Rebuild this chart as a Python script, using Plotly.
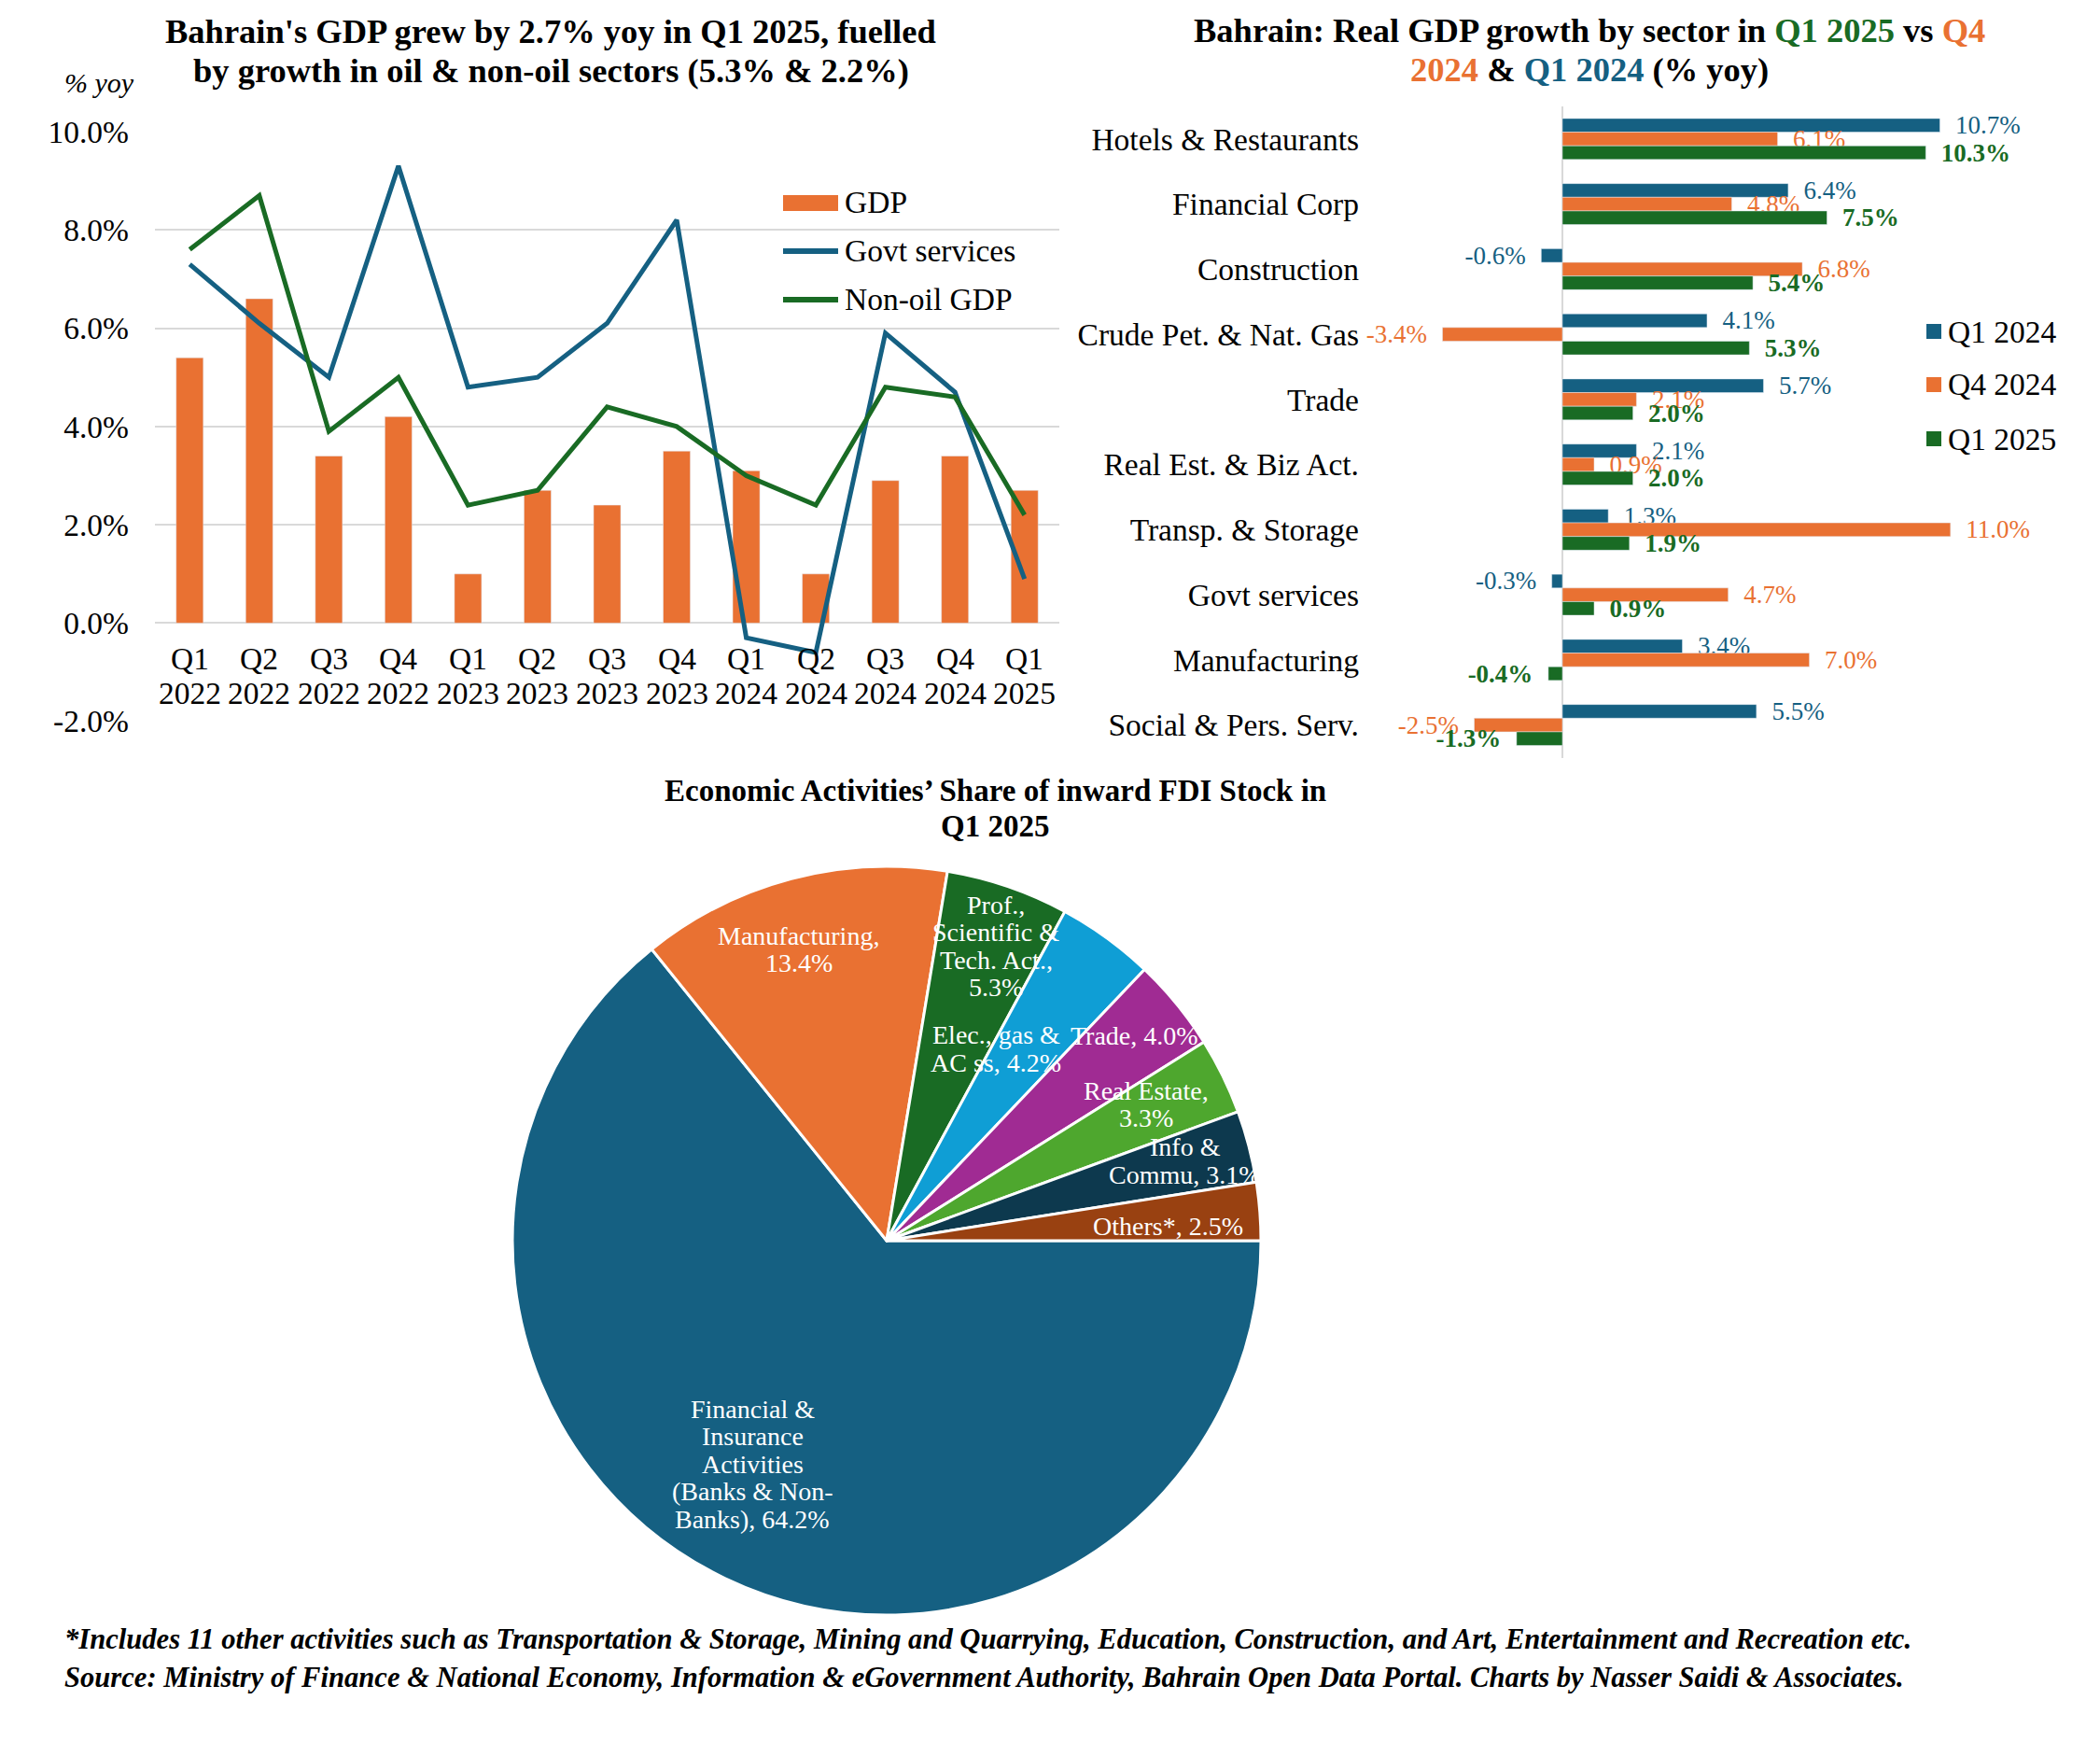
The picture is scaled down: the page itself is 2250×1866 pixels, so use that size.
import math
import plotly.graph_objects as go

W, H = 2250, 1866
FONT = "Liberation Serif, Times New Roman, serif"
ORANGE = "#E97132"
BLUE = "#156082"
GREEN = "#196B24"
GRID = "#D9D9D9"

# ---------------- Data: left chart ----------------
quarters = ["Q1 2022", "Q2 2022", "Q3 2022", "Q4 2022", "Q1 2023", "Q2 2023", "Q3 2023",
            "Q4 2023", "Q1 2024", "Q2 2024", "Q3 2024", "Q4 2024", "Q1 2025"]
gdp = [5.4, 6.6, 3.4, 4.2, 1.0, 2.7, 2.4, 3.5, 3.1, 1.0, 2.9, 3.4, 2.7]
govt_services = [7.3, 6.1, 5.0, 9.3, 4.8, 5.0, 6.1, 8.2, -0.3, -0.6, 5.9, 4.7, 0.9]
non_oil_gdp = [7.6, 8.7, 3.9, 5.0, 2.4, 2.7, 4.4, 4.0, 3.0, 2.4, 4.8, 4.6, 2.2]
y_ticks = [-2, 0, 2, 4, 6, 8, 10]

# ---------------- Data: right chart ----------------
sectors = ["Hotels & Restaurants", "Financial Corp", "Construction", "Crude Pet. & Nat. Gas",
           "Trade", "Real Est. & Biz Act.", "Transp. & Storage", "Govt services",
           "Manufacturing", "Social & Pers. Serv."]
q1_2024 = [10.7, 6.4, -0.6, 4.1, 5.7, 2.1, 1.3, -0.3, 3.4, 5.5]
q4_2024 = [6.1, 4.8, 6.8, -3.4, 2.1, 0.9, 11.0, 4.7, 7.0, -2.5]
q1_2025 = [10.3, 7.5, 5.4, 5.3, 2.0, 2.0, 1.9, 0.9, -0.4, -1.3]

# ---------------- Data: pie chart ----------------
fdi_labels = ["Financial & Insurance Activities (Banks & Non-Banks)", "Manufacturing",
              "Prof., Scientific & Tech. Act.", "Elec., gas & AC ss", "Trade",
              "Real Estate", "Info & Commu", "Others*"]
fdi_label_text = ["Financial &<br>Insurance<br>Activities<br>(Banks & Non-<br>Banks), ",
                  "Manufacturing,<br>", "Prof.,<br>Scientific &<br>Tech. Act.,<br>",
                  "Elec., gas &<br>AC ss, ", "Trade, ", "Real Estate,<br>",
                  "Info &<br>Commu, ", "Others*, "]
fdi_values = [64.2, 13.4, 5.3, 4.2, 4.0, 3.3, 3.1, 2.5]
fdi_colors = ["#156082", "#E97132", "#196B24", "#0F9ED5", "#A02B93", "#4EA72E", "#0D394E", "#994111"]


def px(x):
    return x / W


def py(y):
    return 1 - y / H


fig = go.Figure()

# ---------- Left chart ----------
fig.add_trace(go.Bar(x=quarters, y=gdp, marker_color=ORANGE, width=0.39, name="GDP",
                     xaxis="x", yaxis="y", showlegend=False))
fig.add_trace(go.Scatter(x=quarters, y=govt_services, mode="lines", name="Govt services",
                         line=dict(color=BLUE, width=5), xaxis="x", yaxis="y", showlegend=False))
fig.add_trace(go.Scatter(x=quarters, y=non_oil_gdp, mode="lines", name="Non-oil GDP",
                         line=dict(color=GREEN, width=5), xaxis="x", yaxis="y", showlegend=False))


# ---------- Right chart ----------
def lbl(vals):
    nb = "\u00a0\u00a0"
    return [(nb + f"{v:.1f}%") if v >= 0 else (f"{v:.1f}%" + nb) for v in vals]


for vals, col, nm, bold in [(q1_2024, BLUE, "Q1 2024", False),
                            (q4_2024, ORANGE, "Q4 2024", False),
                            (q1_2025, GREEN, "Q1 2025", True)]:
    fig.add_trace(go.Bar(y=sectors, x=vals, orientation="h", name=nm, marker_color=col,
                         text=lbl(vals), textposition="outside", constraintext="none",
                         cliponaxis=False, textangle=0,
                         textfont=dict(color=col, size=27, family=FONT,
                                       weight="bold" if bold else "normal"),
                         xaxis="x2", yaxis="y2", showlegend=False))

# ---------- Pie ----------
PCX, PCY, PR = 950, 1329, 401
fig.add_trace(go.Pie(labels=fdi_labels, values=fdi_values, sort=False, direction="clockwise",
                     rotation=90, textinfo="none", showlegend=False,
                     marker=dict(colors=fdi_colors, line=dict(color="white", width=3)),
                     domain=dict(x=[px(PCX - PR), px(PCX + PR)], y=[py(PCY + PR), py(PCY - PR)])))

annotations = []


def txt(x, y, text, size, bold=False, italic=False, xanchor="center", color="black"):
    annotations.append(dict(x=px(x), y=py(y), xref="paper", yref="paper", text=text,
                            showarrow=False, xanchor=xanchor, yanchor="middle",
                            font=dict(family=FONT, size=size, color=color,
                                      weight="bold" if bold else "normal",
                                      style="italic" if italic else "normal")))


# pie labels positioned from slice mid-angles (one annotation per text line)
LABEL_R = [0.696, 0.813, 0.84, 0.59, 0.86, 0.783, 0.826, 0.754]
LABEL_DA = [5.5, -2.0, 1.5, -6.3, -0.3, -1.6, -0.4, 1.5]
PIE_LS = 29.5
total = sum(fdi_values)
cum = 0
for i, v in enumerate(fdi_values):
    mid = 90 + (cum + v / 2) / total * 360 + LABEL_DA[i]
    cum += v
    rr = PR * LABEL_R[i]
    lx = PCX + rr * math.sin(math.radians(mid))
    ly = PCY - rr * math.cos(math.radians(mid))
    lines = (fdi_label_text[i] + f"{v:.1f}%").split("<br>")
    n = len(lines)
    for k, line in enumerate(lines):
        txt(lx, ly + (k - (n - 1) / 2) * PIE_LS, line, 28, color="white")

# left x tick labels (at the zero line)
for q in quarters:
    a, b = q.split(" ")
    annotations.append(dict(x=q, y=0, xref="x", yref="y", text=a, showarrow=False, yshift=-38,
                            yanchor="middle",
                            font=dict(family=FONT, size=33.5, color="black")))
    annotations.append(dict(x=q, y=0, xref="x", yref="y", text=b, showarrow=False, yshift=-75,
                            yanchor="middle",
                            font=dict(family=FONT, size=33.5, color="black")))

# titles
txt(590, 33, "Bahrain's GDP grew by 2.7% yoy in Q1 2025, fuelled", 36.5, bold=True)
txt(590, 75, "by growth in oil & non-oil sectors (5.3% & 2.2%)", 36.5, bold=True)
txt(106, 88, "% yoy", 30, italic=True)
txt(1703, 32, "Bahrain: Real GDP growth by sector in <span style='color:#196B24'>Q1 2025</span> vs "
              "<span style='color:#E97132'>Q4</span>", 36.5, bold=True)
txt(1703, 74, "<span style='color:#E97132'>2024</span> & <span style='color:#156082'>Q1 2024</span>"
              " (% yoy)", 36.5, bold=True)
txt(1066, 847, "Economic Activities’ Share of inward FDI Stock in", 33, bold=True)
txt(1066, 885, "Q1 2025", 33, bold=True)
txt(67, 1756, "*Includes 11 other activities such as Transportation & Storage, Mining and Quarrying, "
              "Education, Construction, and Art, Entertainment and Recreation etc.", 30.6,
    bold=True, italic=True, xanchor="left")
txt(67, 1797, "Source: Ministry of Finance & National Economy, Information & eGovernment Authority, "
              "Bahrain Open Data Portal. Charts by Nasser Saidi & Associates.", 30.6,
    bold=True, italic=True, xanchor="left")

shapes = []
# left legend (manual)
shapes.append(dict(type="rect", xref="paper", yref="paper", x0=px(839), x1=px(898),
                   y0=py(226), y1=py(209), fillcolor=ORANGE, line=dict(width=0)))
shapes.append(dict(type="line", xref="paper", yref="paper", x0=px(839), x1=px(898),
                   y0=py(269), y1=py(269), line=dict(color=BLUE, width=6)))
shapes.append(dict(type="line", xref="paper", yref="paper", x0=px(839), x1=px(898),
                   y0=py(321), y1=py(321), line=dict(color=GREEN, width=6)))
txt(903, 217, "GDP", 33.5, xanchor="left")
txt(903, 269, "Govt services", 33.5, xanchor="left")
txt(903, 321, "Non-oil GDP", 33.5, xanchor="left")

# right legend (manual)
for yy, col, nm in [(355, BLUE, "Q1 2024"), (412, ORANGE, "Q4 2024"), (470, GREEN, "Q1 2025")]:
    shapes.append(dict(type="rect", xref="paper", yref="paper", x0=px(2064), x1=px(2080),
                       y0=py(yy + 8), y1=py(yy - 8), fillcolor=col, line=dict(width=0)))
    txt(2085, yy, nm, 33.5, xanchor="left")

# right axis geometry
ZERO_X, PX_PER_PCT = 1674, 37.8
RX0, RX1 = 1469, 2240

fig.update_layout(
    width=W, height=H, autosize=False,
    margin=dict(l=0, r=0, t=0, b=0, pad=0),
    paper_bgcolor="white", plot_bgcolor="white",
    font=dict(family=FONT, color="black"),
    barmode="group", bargap=0.37, bargroupgap=0,
    xaxis=dict(domain=[px(166), px(1135)], range=[-0.5, 12.5], showticklabels=False,
               showgrid=False, zeroline=False, showline=False, ticks="", automargin=False),
    yaxis=dict(domain=[py(772.7), py(141)], range=[-2, 10], tickvals=y_ticks,
               ticktext=[f"{v:.1f}%" for v in y_ticks], gridcolor=GRID, gridwidth=2,
               zeroline=False, showline=False, ticks="", ticklabelstandoff=27, automargin=False,
               tickfont=dict(family=FONT, size=33.5, color="black")),
    xaxis2=dict(domain=[px(RX0), px(RX1)],
                range=[(RX0 - ZERO_X) / PX_PER_PCT, (RX1 - ZERO_X) / PX_PER_PCT],
                anchor="y2", showticklabels=False, showgrid=False, zeroline=True,
                zerolinecolor=GRID, zerolinewidth=2, showline=False, ticks="", automargin=False),
    yaxis2=dict(domain=[py(811.5), py(114)], anchor="x2", categoryorder="array",
                categoryarray=sectors, autorange="reversed", showgrid=False, zeroline=False,
                showline=False, ticks="", ticklabelstandoff=12, automargin=False,
                tickfont=dict(family=FONT, size=33.5, color="black")),
    annotations=annotations,
    shapes=shapes,
)

fig.write_html("out.html", config={"displayModeBar": False},
               post_script="document.body.style.margin='0';")
